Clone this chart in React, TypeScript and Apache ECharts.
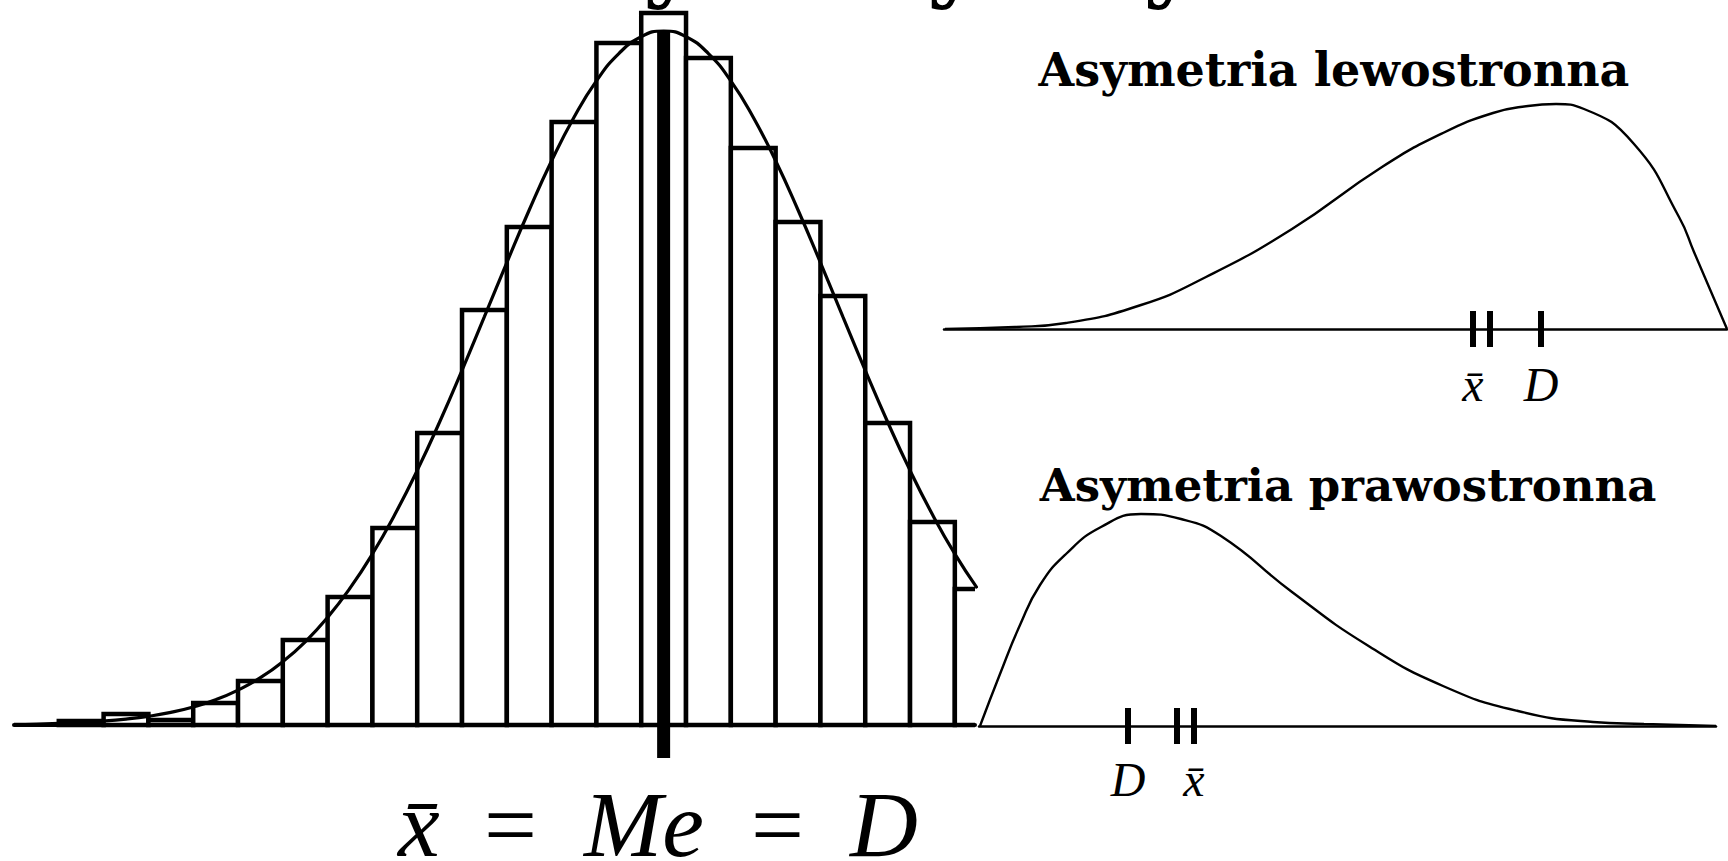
import React, { useEffect, useRef } from "react";
import * as echarts from "echarts";

// ---------- Symmetric histogram (left panel) ----------
const histBinLeft = [-1, 0, 1, 2, 3, 4, 5, 6, 7, 8, 9, 10, 11, 12, 13, 14, 15, 16, 17, 18, 19];
const histBinRight = [0, 1, 2, 3, 4, 5, 6, 7, 8, 9, 10, 11, 12, 13, 14, 15, 16, 17, 18, 19, 20];
const histCounts = [4, 11, 5, 22, 44, 85, 128, 197, 292, 415, 498, 603, 682, 712, 667, 577, 503, 429, 302, 203, 136];

const normalX = [-2, -1.5, -1, -0.5, 0, 0.5, 1, 1.5, 2, 2.5, 3, 3.5, 4, 4.5, 5, 5.5, 6, 6.5, 7, 7.5, 8, 8.5, 9, 9.5, 10, 10.5, 11, 11.5, 12, 12.5, 13, 13.5, 14, 14.5, 15, 15.5, 16, 16.5, 17, 17.5, 18, 18.5, 19, 19.5];
const normalY = [0.7, 1.0, 1.7, 2.6, 3.9, 5.9, 8.7, 12.6, 18.0, 25.2, 34.9, 47.3, 63.3, 83.2, 107.6, 136.8, 171.1, 210.5, 254.6, 303.0, 354.7, 408.4, 462.4, 515.0, 564.2, 607.8, 644.1, 671.4, 688.3, 694, 688.3, 671.4, 644.1, 607.8, 564.2, 515.0, 462.4, 408.4, 354.7, 303.0, 254.6, 210.5, 171.1, 136.8];

const centerX = 12.5; // mean = median = mode
const centerTop = 695;
const centerBottom = -33;

// ---------- Left-skewed distribution (top right) ----------
const leftSkewX = [1, 71, 122, 197, 262, 348, 438, 499, 549, 584, 612, 640, 690, 735, 750, 783];
const leftSkewY = [0, 2, 6, 24, 52, 100, 162, 196, 216, 223, 225, 220, 185, 112, 77, 0];
const leftSkewMeanTicks = [529, 546];
const leftSkewModeTick = 597;

// ---------- Right-skewed distribution (bottom right) ----------
const rightSkewX = [1, 21, 41, 61, 87, 122, 162, 202, 242, 313, 388, 464, 539, 614, 665, 737];
const rightSkewY = [0, 52, 101, 141, 172, 199, 212, 207, 190, 134, 81, 40, 15, 4, 2, 0];
const rightSkewModeTick = 149;
const rightSkewMeanTicks = [198, 215];

// ---------- Texts ----------
const mainTitle = "Rozkład symetryczny";
const leftTitle = "Asymetria lewostronna";
const rightTitle = "Asymetria prawostronna";
const meanLabel = "x\u0304";
const modeLabel = "D";
const medianLabel = "Me";
const equalsSign = "=";

const BLACK = "#000";
const MATH_FAMILY = "'Liberation Serif', 'DejaVu Serif', serif";
const TITLE_FAMILY = "'DejaVu Serif', serif";

function hiddenX(gridIndex: number, min: number, max: number, width: number) {
  return {
    type: "value",
    gridIndex,
    min,
    max,
    axisLine: { show: true, onZero: true, lineStyle: { color: BLACK, width } },
    axisTick: { show: false },
    axisLabel: { show: false },
    splitLine: { show: false },
  };
}

function hiddenY(gridIndex: number, min: number, max: number) {
  return {
    type: "value",
    gridIndex,
    min,
    max,
    show: false,
    splitLine: { show: false },
  };
}

const labelFont = {
  fontFamily: MATH_FAMILY,
  fontStyle: "italic",
  fontSize: 48,
  color: BLACK,
};

function mathText(text: string, x: number, italic: boolean) {
  return {
    type: "text",
    x,
    y: 824,
    silent: true,
    style: {
      text,
      fontFamily: MATH_FAMILY,
      fontSize: 94,
      fontStyle: italic ? "italic" : "normal",
      fill: BLACK,
      textAlign: "left",
      textVerticalAlign: "middle",
    },
  };
}

function titleText(text: string, x: number, y: number, size: number) {
  return {
    type: "text",
    x,
    y,
    silent: true,
    style: {
      text,
      fontFamily: TITLE_FAMILY,
      fontSize: size,
      fontWeight: "bold",
      fill: BLACK,
      textAlign: "center",
      textVerticalAlign: "middle",
    },
  };
}

export default function App() {
  const ref = useRef<HTMLDivElement>(null);

  useEffect(() => {
    if (!ref.current) return;
    const chart = echarts.init(ref.current, null, { renderer: "svg" });

    const histData = histCounts.map((c, i) => [histBinLeft[i], histBinRight[i], c]);
    const normalData = normalX.map((x, i) => [x, normalY[i]]);
    const leftSkewData = leftSkewX.map((x, i) => [x, leftSkewY[i]]);
    const rightSkewData = rightSkewX.map((x, i) => [x, rightSkewY[i]]);

    const option: any = {
      animation: false,
      backgroundColor: "#fff",
      grid: [
        { left: 14, top: 0, width: 961, height: 765 },
        { left: 944, top: 29, width: 783, height: 300 },
        { left: 979, top: 426, width: 737, height: 300 },
      ],
      xAxis: [hiddenX(0, -2, 19.45, 4), hiddenX(1, 0, 783, 2.5), hiddenX(2, 0, 737, 2.5)],
      yAxis: [hiddenY(0, -40, 725), hiddenY(1, 0, 300), hiddenY(2, 0, 300)],
      graphic: [
        titleText(mainTitle, 684, -41, 87),
        titleText(leftTitle, 1334, 70, 46),
        titleText(rightTitle, 1348, 485, 45),
        mathText(meanLabel, 398, true),
        mathText(equalsSign, 484, false),
        mathText(medianLabel, 584, true),
        mathText(equalsSign, 751, false),
        mathText(modeLabel, 850, true),
      ],
      series: [
        {
          type: "custom",
          xAxisIndex: 0,
          yAxisIndex: 0,
          clip: true,
          data: histData,
          encode: { x: [0, 1], y: 2 },
          renderItem: (params: any, api: any) => {
            const p0 = api.coord([api.value(0), api.value(2)]);
            const p1 = api.coord([api.value(1), 0]);
            return {
              type: "rect",
              shape: { x: p0[0], y: p0[1], width: p1[0] - p0[0], height: p1[1] - p0[1] },
              style: { fill: "#fff", stroke: BLACK, lineWidth: 4.5 },
            };
          },
        },
        {
          type: "line",
          xAxisIndex: 0,
          yAxisIndex: 0,
          data: normalData,
          smooth: true,
          symbol: "none",
          lineStyle: { color: BLACK, width: 3.2 },
        },
        {
          type: "line",
          xAxisIndex: 0,
          yAxisIndex: 0,
          data: [
            [centerX, centerTop],
            [centerX, centerBottom],
          ],
          symbol: "none",
          lineStyle: { color: BLACK, width: 13, cap: "butt" },
        },
        {
          type: "line",
          xAxisIndex: 1,
          yAxisIndex: 1,
          data: leftSkewData,
          smooth: 0.5,
          symbol: "none",
          lineStyle: { color: BLACK, width: 2.4 },
        },
        {
          type: "scatter",
          xAxisIndex: 1,
          yAxisIndex: 1,
          symbol: "rect",
          symbolSize: [6, 36],
          itemStyle: { color: BLACK, opacity: 1 },
          clip: false,
          label: { show: true, position: "bottom", distance: 13, formatter: "{b}", ...labelFont },
          data: [
            { value: [leftSkewMeanTicks[0], 0], name: meanLabel },
            { value: [leftSkewMeanTicks[1], 0], name: "" },
            { value: [leftSkewModeTick, 0], name: modeLabel },
          ],
        },
        {
          type: "line",
          xAxisIndex: 2,
          yAxisIndex: 2,
          data: rightSkewData,
          smooth: 0.5,
          symbol: "none",
          lineStyle: { color: BLACK, width: 2.4 },
        },
        {
          type: "scatter",
          xAxisIndex: 2,
          yAxisIndex: 2,
          symbol: "rect",
          symbolSize: [6, 36],
          itemStyle: { color: BLACK, opacity: 1 },
          clip: false,
          label: { show: true, position: "bottom", distance: 11, formatter: "{b}", ...labelFont },
          data: [
            { value: [rightSkewModeTick, 0], name: modeLabel },
            { value: [rightSkewMeanTicks[0], 0], name: "" },
            { value: [rightSkewMeanTicks[1], 0], name: meanLabel },
          ],
        },
      ],
    };

    chart.setOption(option);
    return () => {
      chart.dispose();
    };
  }, []);

  return (
    <div
      ref={ref}
      style={{ position: "fixed", left: 0, top: 0, width: 1728, height: 861, background: "#fff" }}
    />
  );
}
